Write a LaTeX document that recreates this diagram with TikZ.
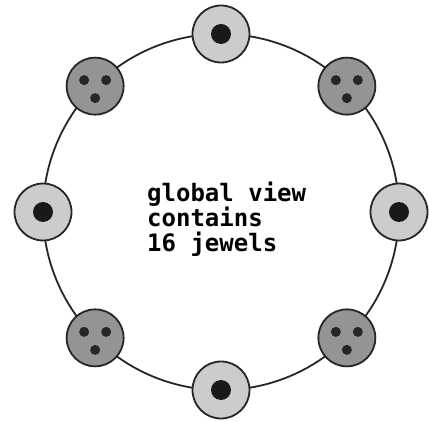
\documentclass[tikz,border=0pt]{standalone}
\usepackage{fontspec}
\usetikzlibrary{calc}
\newfontfamily\monob{DejaVu Sans Mono}
\begin{document}
\begin{tikzpicture}[x=1pt,y=-1pt,
  ring/.style={draw=black!85,line width=1.8pt},
  plainjewel/.style={circle,draw=black!85,line width=1.8pt,fill=black!20,minimum size=57pt,inner sep=0pt},
  darkjewel/.style={circle,draw=black!85,line width=1.8pt,fill=black!42,minimum size=57pt,inner sep=0pt},
  core/.style={circle,fill=black!90,minimum size=20pt,inner sep=0pt},
  pip/.style={circle,fill=black!85,minimum size=10pt,inner sep=0pt}]
\useasboundingbox (0,0) rectangle (429,422);
\coordinate (c) at (221,212);
\draw[ring] (c) circle (178);
\foreach \n/\a in {t/90,r/0,b/270,l/180}{
  \node[plainjewel] (\n) at ($(c)+(\a:178)$) {};
  \node[core] (\n c) at (\n) {};
}
\foreach \n/\a in {tl/135,tr/45,bl/225,br/315}{
  \node[darkjewel] (\n) at ($(c)+(\a:178)$) {};
  \node[pip] (\n1) at ($(\n)+(-11,-6)$) {};
  \node[pip] (\n2) at ($(\n)+(11,-6)$) {};
  \node[pip] (\n3) at ($(\n)+(0,12)$) {};
}
\node[anchor=base west,align=left,font=\monob\bfseries\fontsize{24}{25}\selectfont,inner sep=0pt] (txt) at (147,252) {global view\\contains\\16 jewels};
\end{tikzpicture}
\end{document}
